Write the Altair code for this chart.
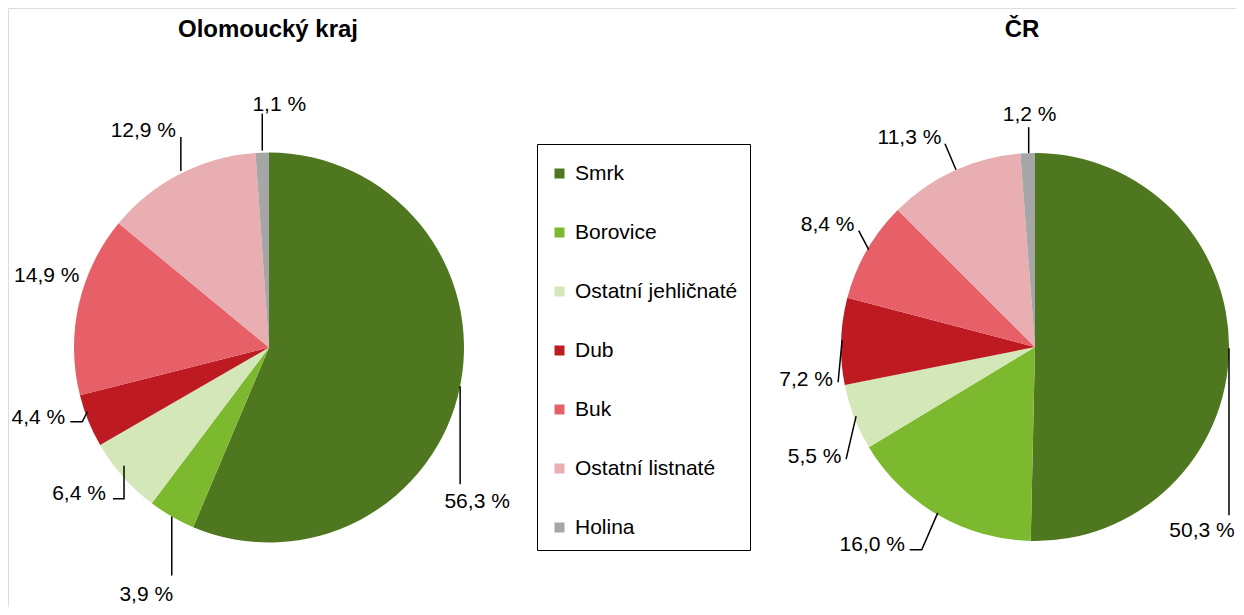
import math
import altair as alt
import pandas as pd

# ---- data ----
categories = ["Smrk", "Borovice", "Ostatní jehličnaté", "Dub", "Buk", "Ostatní listnaté", "Holina"]
olomoucky = [56.3, 3.9, 6.4, 4.4, 14.9, 12.9, 1.1]
cr = [50.3, 16.0, 5.5, 7.2, 8.4, 11.3, 1.2]
titles = ["Olomoucký kraj", "ČR"]

# ---- style / layout ----
colors = ["#4F7720", "#7DB92E", "#D3E7B8", "#BE1A22", "#E76068", "#E8AEB2", "#A6A6A6"]
FONT = "Liberation Sans"
pies = [
    {"name": titles[0], "values": olomoucky, "cx": 269, "cy": 347.5, "r": 195, "tx": 268},
    {"name": titles[1], "values": cr, "cx": 1035, "cy": 347, "r": 194, "tx": 1022},
]
# label placement relative to the slice anchor (text centre offset, leader polyline)
label_place = [
    [((17, 114), [(0, 0), (0, 98)]),
     ((-25.5, 77), [(0, 0), (0, 59)]),
     ((-44, 16), [(1, -11), (1, 22), (-10, 22)]),
     ((-50, -4), [(-1, -9), (-6, 1), (-18, 1)]),
     ((-32, -30), []),
     ((-36.5, -44.5), [(1, -3), (1, -37)]),
     ((17, -49), [(0, -2), (0, -39)])],
    [((-27, 180), [(0, -1), (0, 166)]),
     ((-65.5, 28.5), [(0, -2), (-16, 35), (-28, 35)]),
     ((-39.5, 38.5), [(2, -1), (-8, 42)]),
     ((-35, 37), [(1, -1), (-3, 41)]),
     ((-39, -27), [(2, -1), (-8, -20)]),
     ((-44.5, -34.5), [(2, -1), (-9, -27)]),
     ((2, -40), [(1, 0), (1, -26)])],
]

W, H = 1228, 599
xs = alt.Scale(domain=[8, 8 + W])
ys = alt.Scale(domain=[8, 8 + H], reverse=True)

color_enc = alt.Color(
    "kategorie:N",
    sort=categories,
    scale=alt.Scale(domain=categories, range=colors),
    legend=alt.Legend(
        title=" ", titleFontSize=1, titlePadding=6,
        orient="none", legendX=529, legendY=136,
        padding=12, strokeColor="black", fillColor="white",
        symbolType="square", symbolSize=100, symbolStrokeWidth=0,
        labelFont=FONT, labelFontSize=21, labelColor="black", labelLimit=0,
        labelOffset=5, rowPadding=37,
    ),
)

layers = []
text_rows = []
line_rows = []
for pi, p in enumerate(pies):
    df = pd.DataFrame({"kategorie": categories, "value": p["values"], "idx": range(len(categories))})
    arc = alt.Chart(df).mark_arc(radius=p["r"]).encode(
        theta=alt.Theta("value:Q", stack=True),
        color=color_enc,
        order=alt.Order("idx:Q"),
        x=alt.XDatum(p["cx"], type="quantitative", scale=xs, axis=None),
        y=alt.YDatum(p["cy"], type="quantitative", scale=ys, axis=None),
    )
    layers.append(arc)
    total = sum(p["values"])
    cum = 0.0
    for i, v in enumerate(p["values"]):
        mid = (cum + v / 2) / total * 2 * math.pi
        cum += v
        ax = p["cx"] + p["r"] * math.sin(mid)
        ay = p["cy"] - p["r"] * math.cos(mid)
        (tdx, tdy), pts = label_place[pi][i]
        text_rows.append({"x": ax + tdx, "y": ay + tdy + 7.5,
                          "label": f"{v:.1f}".replace(".", ",") + " %"})
        for k, (dx, dy) in enumerate(pts):
            line_rows.append({"seg": f"{pi}-{i}", "k": k, "x": ax + dx, "y": ay + dy})

lines = alt.Chart(pd.DataFrame(line_rows)).mark_line(color="black", strokeWidth=1.5).encode(
    x=alt.X("x:Q", scale=xs, axis=None),
    y=alt.Y("y:Q", scale=ys, axis=None),
    detail="seg:N",
    order="k:Q",
)
texts = alt.Chart(pd.DataFrame(text_rows)).mark_text(
    font=FONT, fontSize=21, color="black", align="center", baseline="alphabetic"
).encode(
    x=alt.X("x:Q", scale=xs, axis=None),
    y=alt.Y("y:Q", scale=ys, axis=None),
    text="label:N",
)
title_df = pd.DataFrame({"x": [p["tx"] for p in pies], "y": [37, 37], "t": titles})
title_marks = alt.Chart(title_df).mark_text(
    font=FONT, fontSize=24, fontWeight="bold", color="black", align="center", baseline="alphabetic"
).encode(
    x=alt.X("x:Q", scale=xs, axis=None),
    y=alt.Y("y:Q", scale=ys, axis=None),
    text="t:N",
)

chart = alt.layer(*layers, lines, texts, title_marks).resolve_scale(theta="independent").properties(
    width=W, height=H, padding=0, autosize=alt.AutoSizeParams(type="none")
).configure_view(strokeWidth=0, stroke="transparent").configure(background="white")

chart.save("out.html", embed_options={"renderer": "svg", "actions": False})
